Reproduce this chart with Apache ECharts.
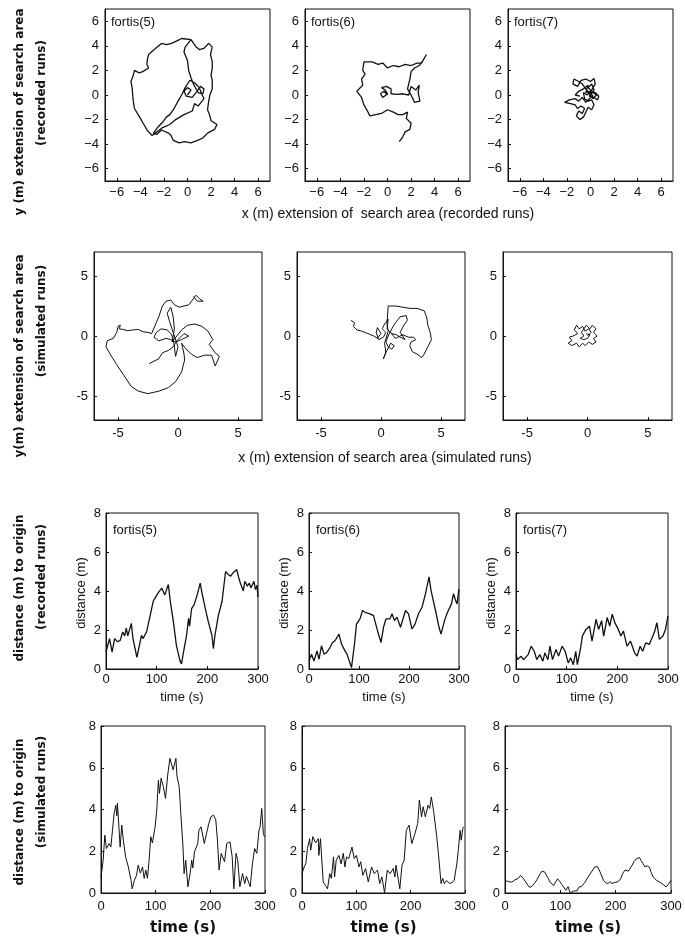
<!DOCTYPE html>
<html>
<head>
<meta charset="utf-8">
<script src="https://cdn.jsdelivr.net/npm/echarts@6/dist/echarts.min.js"></script>
<style>
  html, body { margin: 0; padding: 0; background: #fff; }
  #main { width: 685px; height: 941px; }
</style>
</head>
<body>
<div id="main"></div>
<script>
// ---- tick labels ----
const recTicks = [-6, -4, -2, 0, 2, 4, 6];
const simTicks = [-5, 0, 5];
const timeTicks = [0, 100, 200, 300];
const distTicks = [0, 2, 4, 6, 8];
const panelNames = ['fortis(5)', 'fortis(6)', 'fortis(7)'];

// ---- recorded search paths (x m, y m) ----
const recPath5 = [[0,0],[0.3,0.4],[0,0.6],[-0.3,0.3],[-0.1,-0.1],[0.4,-0.2],[0.8,0.3],[1.1,0.7],[1.4,0.5],[1.3,0.1],[0.9,0.2],[0.5,0.9],[0.3,1.4],[0.1,2.0],[0,2.8],[-0.3,3.5],[-0.2,3.9],[0.3,4.5],[0.7,3.95],[1.0,3.7],[1.4,3.8],[1.8,4.2],[2.1,3.9],[1.95,3.3],[2.1,2.7],[2.1,2.2],[2.0,1.6],[2.1,1.2],[2.1,0.5],[1.9,0],[1.8,-0.5],[1.7,-1.2],[1.9,-1.7],[2.0,-2.1],[2.5,-2.4],[2.3,-2.8],[1.7,-3.1],[1.3,-3.5],[0.85,-3.7],[0.3,-3.9],[-0.25,-3.8],[-0.7,-3.9],[-1.2,-3.7],[-1.4,-3.3],[-1.6,-3.1],[-2.2,-2.85],[-2.6,-3.2],[-2.9,-3.1],[-2.5,-2.6],[-2.1,-2.2],[-1.8,-1.8],[-1.5,-1.6],[-1.2,-1.2],[-0.8,-0.5],[-0.5,0],[-0.2,0.6],[0.2,1.2],[0.6,1.0],[1.0,0.6],[1.2,0.1],[1.4,-0.3],[0.9,-0.9],[0.6,-0.7],[0.4,-1.3],[-0.3,-1.6],[-1.0,-2.0],[-1.5,-2.4],[-2.2,-2.7],[-3.0,-3.3],[-3.4,-2.9],[-3.7,-2.4],[-4.0,-1.9],[-4.5,-1.1],[-4.6,-0.5],[-4.65,0],[-4.7,0.6],[-4.8,1.1],[-4.6,1.6],[-4.5,2.0],[-4.1,1.8],[-3.8,1.9],[-3.3,2.2],[-3.45,2.5],[-3.4,2.9],[-3.3,3.3],[-2.7,3.8],[-2.2,4.2],[-1.8,4.1],[-1.35,4.2],[-0.9,4.4],[-0.5,4.6],[0.3,4.5]];
const recPath6 = [[0,0],[-0.3,0.3],[-0.6,0.1],[-0.4,-0.2],[0,0.1],[-0.2,0.4],[-0.5,0.6],[-0.1,0.7],[0.3,0.5],[0.3,0.1],[0.8,0.05],[1.3,0.1],[1.8,0],[2.0,0.7],[2.4,0.4],[2.7,0.8],[2.6,0.2],[2.75,-0.5],[2.3,-0.6],[2.0,0],[1.7,0.5],[1.9,1.3],[2.0,1.9],[2.3,2.2],[2.7,2.4],[3.0,2.8],[3.3,3.3],[2.9,2.6],[2.5,2.6],[2.0,2.4],[1.5,2.5],[1.0,2.3],[0.5,2.4],[0,2.2],[-0.4,2.6],[-0.8,2.5],[-1.3,2.7],[-2.0,2.7],[-2.1,2.0],[-1.9,1.7],[-2.2,1.3],[-2.1,0.8],[-2.6,0.3],[-2.2,-0.2],[-2.0,-0.8],[-1.7,-1.3],[-1.5,-1.7],[-1.0,-1.6],[-0.5,-1.5],[0,-1.2],[0.5,-1.4],[0.9,-1.6],[1.3,-1.6],[1.7,-1.4],[1.6,-1.9],[2.0,-2.3],[1.9,-2.8],[1.5,-3.0],[1.3,-3.4],[1.0,-3.8]];
const recPath7 = [[0,0],[0.3,0.4],[0.1,0.9],[-0.2,0.6],[0.2,0.2],[0.5,0],[0.2,-0.3],[-0.1,0.1],[-0.4,0.5],[-0.7,0.9],[-1.0,1.1],[-1.4,1.3],[-1.5,0.9],[-1.1,0.7],[-0.8,1.2],[-0.4,1.3],[0,1.1],[0.3,1.35],[0.4,0.9],[0.1,0.4],[-0.1,-0.1],[0.3,-0.2],[0.6,-0.4],[0.7,-0.1],[0.4,0.2],[0,0.3],[-0.3,0],[-0.6,0.2],[-0.5,-0.3],[-0.2,-0.5],[0.1,-0.4],[0.3,-0.8],[0.1,-1.2],[-0.2,-1.0],[-0.4,-1.4],[-0.6,-1.8],[-0.9,-2.0],[-1.2,-1.7],[-1.0,-1.3],[-0.7,-1.5],[-0.5,-1.1],[-0.8,-0.9],[-1.1,-1.1],[-1.3,-0.8],[-1.7,-0.7],[-2.2,-0.6],[-1.8,-0.4],[-1.3,-0.3],[-1.0,-0.5],[-0.7,-0.2],[-0.4,-0.6],[-0.1,-0.3],[0.2,-0.1],[-0.1,0.3],[-0.4,0.2],[-0.2,0.8],[-0.6,0.5],[-1.0,0.3],[-1.3,0],[-0.9,-0.1]];

// ---- simulated search paths ----
const simPath5 = [[-2.4,-2.3],[-2.0,-2.1],[-1.6,-1.9],[-1.3,-1.4],[-0.8,-1.2],[-0.4,-0.9],[-0.1,-0.4],[0.5,0.2],[0.9,0],[0.3,-0.3],[-0.2,-0.5],[-0.6,-0.3],[-1.0,-0.2],[-1.6,-0.4],[-2.0,-0.1],[-1.8,0.3],[-1.4,0.6],[-0.9,0.5],[-0.6,0.2],[-0.4,-0.2],[-0.2,-1.7],[0,-0.9],[-0.4,0.3],[-0.7,1.2],[-0.9,1.9],[-0.6,2.4],[-0.4,1.6],[-0.3,0.6],[-0.5,-0.5],[0.3,0.5],[0.8,0.9],[1.4,1.0],[2.0,0.8],[2.5,0.4],[2.9,-0.3],[2.6,-0.7],[3.1,-1.4],[3.45,-1.7],[3.1,-2.5],[2.8,-1.6],[2.2,-1.6],[1.6,-1.8],[1.1,-1.5],[0.6,-1.0],[0.3,-0.6],[0.5,-1.5],[0.55,-2.0],[0.3,-3.0],[-0.2,-3.8],[-0.8,-4.3],[-1.6,-4.6],[-2.5,-4.8],[-3.3,-4.6],[-3.9,-4.2],[-4.5,-3.3],[-5.1,-2.4],[-5.6,-1.6],[-6.0,-0.9],[-5.9,-0.4],[-5.4,-0.2],[-5.1,0.3],[-5.0,0.8],[-4.8,0.9],[-4.9,0.6],[-4.6,0.55],[-4.2,0.45],[-3.8,0.5],[-3.3,0.55],[-2.9,0.35],[-2.5,0.3],[-2.2,0.2],[-1.9,0.9],[-1.6,1.6],[-1.3,2.5],[-1.0,2.9],[-0.6,3.0],[-0.3,2.6],[0.1,2.4],[0.5,2.5],[0.9,2.6],[1.2,3.0],[1.5,3.4],[1.8,3.1],[2.1,2.9],[1.6,2.9],[1.3,3.3]];
const simPath6 = [[-2.5,1.3],[-2.2,1.1],[-2.3,0.8],[-2.0,0.5],[-1.6,0.4],[-1.1,0.2],[-0.6,0],[-0.3,-0.2],[0,0.2],[-0.3,0.7],[-0.4,0.3],[-0.2,-0.3],[0.2,-0.1],[0.4,0.3],[0.1,0.6],[0.3,1.0],[0.6,1.4],[0.5,0.6],[0.9,0.2],[1.3,0.1],[1.6,-0.1],[2.0,-0.3],[1.6,0.3],[1.9,0.9],[2.2,1.3],[2.1,1.7],[1.6,1.6],[1.2,1.1],[0.9,0.6],[0.6,0],[0.4,-0.5],[0.6,-0.9],[0.9,-1.1],[1.1,-0.8],[0.8,-0.6],[0.5,-1.2],[0.3,-1.6],[0.2,-1.9],[0.4,-1.4],[0.3,-0.6],[0.6,0.4],[0.5,1.0],[0.6,2.5],[1.2,2.5],[1.8,2.4],[2.4,2.3],[3.0,2.3],[3.6,2.1],[3.8,1.6],[3.9,0.9],[4.1,0.3],[4.2,-0.3],[3.9,-0.9],[3.6,-1.5],[3.4,-1.8],[3.0,-1.5],[2.6,-1.3],[2.4,-0.8],[2.5,-0.5],[2.9,-0.3],[2.7,-0.1],[2.3,-0.1],[1.8,0.1],[1.2,-0.2],[0.8,0.3]];
const simPath7 = [[0,0],[0.3,0.3],[0.1,0.6],[-0.2,0.4],[-0.4,0.8],[-0.7,0.6],[-0.9,0.9],[-1.1,0.5],[-0.8,0.2],[-1.2,0],[-1.5,-0.1],[-1.3,-0.4],[-1.6,-0.6],[-1.3,-0.8],[-0.9,-0.6],[-0.7,-0.9],[-0.4,-0.6],[-0.2,-0.8],[0.1,-0.5],[0.4,-0.7],[0.7,-0.5],[0.5,-0.2],[0.8,0],[0.5,0.3],[0.7,0.6],[0.4,0.9],[0.2,0.6],[-0.1,0.9],[-0.3,0.6],[-0.5,0.3],[-0.3,0],[-0.6,-0.2],[-0.3,-0.3],[0,-0.2],[0.2,0.1],[-0.1,0.2]];

// ---- distance to origin, recorded runs (t s, d m) ----
const recDist5 = [[0,0.87],[7,1.56],[12,0.87],[17,1.56],[23,1.4],[28,1.47],[33,1.9],[37,1.7],[40,2.1],[43,1.7],[50,2.34],[53,1.6],[61,0.6],[70,1.73],[73,1.56],[80,1.9],[86,2.6],[93,3.46],[96,3.6],[103,3.9],[110,4.15],[113,4.25],[116,3.8],[123,4.33],[127,3.46],[133,2.42],[139,1.2],[146,0.43],[149,0.26],[153,0.87],[159,1.73],[163,2.6],[165,2.2],[169,3.1],[174,3.3],[180,3.8],[186,4.4],[189,3.96],[196,3.1],[202,2.42],[209,1.73],[212,1.04],[215,1.73],[222,2.77],[229,3.46],[236,5.0],[241,4.85],[246,4.76],[251,4.94],[258,5.1],[262,4.68],[265,4.42],[271,4.0],[274,4.5],[279,4.25],[283,4.4],[286,4.16],[292,4.5],[295,4.07],[298,4.3],[300,3.7]];
const recDist6 = [[0,0.41],[5,0.76],[10,0.41],[16,0.93],[20,0.5],[25,1.19],[30,0.76],[35,0.84],[42,1.1],[47,1.36],[52,1.45],[60,1.79],[65,1.28],[72,0.93],[76,0.76],[80,0.84],[85,0.07],[91,1.28],[95,2.3],[102,2.57],[107,3.0],[112,2.91],[115,3.0],[122,2.83],[129,2.74],[137,1.97],[144,1.36],[149,2.14],[154,2.57],[162,2.57],[166,2.83],[171,2.48],[176,2.66],[183,2.14],[193,3.0],[199,2.83],[206,2.05],[212,2.3],[219,2.83],[226,3.17],[233,3.86],[240,4.72],[244,4.03],[253,3.0],[260,2.14],[264,1.79],[271,2.48],[277,2.91],[285,3.34],[289,3.86],[293,3.52],[296,3.34],[300,4.1]];
const recDist7 = [[0,0.74],[3,0.48],[10,0.65],[15,0.48],[24,0.74],[30,1.17],[36,0.91],[41,0.48],[47,0.74],[53,0.4],[57,0.83],[63,0.48],[67,1.17],[72,0.48],[79,1.0],[84,0.66],[91,1.17],[97,0.91],[103,0.31],[108,0.57],[113,0.22],[118,0.91],[121,0.22],[127,1.0],[131,1.69],[138,2.03],[145,2.2],[150,1.43],[158,2.55],[163,2.03],[169,2.47],[173,1.69],[180,2.64],[185,2.2],[190,2.81],[195,2.38],[202,2.03],[207,1.69],[212,1.95],[219,1.17],[226,1.43],[234,0.83],[239,0.66],[245,1.17],[250,0.91],[256,1.34],[263,1.26],[270,1.69],[274,1.95],[278,2.38],[283,1.52],[290,1.69],[295,2.03],[300,2.72]];

// ---- distance to origin, simulated runs ----
const simDist5 = [[0,0.77],[4,1.57],[7,2.77],[10,2.13],[15,2.37],[18,2.2],[21,3.0],[24,3.8],[27,4.2],[29,3.7],[30,4.3],[32,3.5],[35,2.2],[38,3.25],[41,2.5],[45,1.73],[50,1.25],[55,0.6],[57,0.2],[61,0.6],[65,0.85],[68,1.33],[72,0.95],[76,1.25],[79,0.7],[82,1.1],[85,0.7],[88,1.57],[91,2.7],[94,2.4],[99,3.17],[102,3.97],[105,5.4],[107,4.77],[110,5.5],[114,5.1],[118,4.53],[122,5.65],[126,6.45],[129,6.5],[132,5.9],[137,6.45],[139,5.6],[143,5.1],[146,3.8],[150,2.2],[152,0.93],[155,1.57],[159,0.3],[163,0.93],[166,1.57],[168,1.2],[171,1.97],[174,1.9],[177,2.37],[179,3.0],[183,3.17],[189,2.37],[193,2.85],[197,3.3],[201,3.65],[206,3.73],[210,3.5],[213,2.53],[216,1.1],[220,1.9],[226,1.5],[230,2.37],[236,2.45],[240,1.73],[243,0.2],[247,1.9],[250,1.6],[254,0.3],[259,0.93],[263,0.45],[266,0.8],[273,0.3],[277,1.4],[281,2.13],[285,1.9],[289,3.0],[291,3.17],[294,4.05],[297,2.85],[299,2.7]];
const simDist6 = [[0,0.93],[4,1.25],[7,1.4],[10,2.13],[14,2.6],[16,2.05],[20,2.7],[25,2.4],[30,2.6],[31,1.8],[34,2.6],[39,0.53],[43,0.37],[47,0.2],[51,0.93],[54,0.7],[58,1.73],[60,0.77],[63,1.57],[68,1.8],[72,1.4],[76,1.9],[79,1.25],[82,1.73],[86,1.65],[92,2.2],[96,1.65],[100,1.8],[105,1.25],[108,1.5],[112,0.85],[117,1.17],[122,0.53],[128,1.25],[133,0.93],[139,1.1],[143,0.45],[147,0.77],[152,0.02],[157,1.1],[162,0.93],[168,1.17],[171,0.77],[173,1.33],[180,0.2],[184,1.33],[188,1.57],[192,3.0],[197,3.25],[202,2.37],[208,2.85],[213,3.33],[216,4.45],[220,3.65],[223,4.13],[227,3.65],[232,4.2],[235,4.05],[238,4.6],[242,3.97],[248,2.7],[251,1.9],[256,0.45],[259,0.7],[262,0.45],[266,0.6],[272,0.45],[276,0.5],[280,0.6],[285,1.4],[288,2.13],[291,3.0],[293,2.53],[296,3.1],[298,3.17]];
const simDist7 = [[0,0.6],[6,0.55],[12,0.52],[18,0.63],[24,0.7],[28,0.84],[33,0.7],[38,0.5],[43,0.3],[47,0.28],[53,0.45],[58,0.65],[63,0.9],[67,1.05],[72,1.0],[77,0.75],[82,0.5],[88,0.36],[92,0.55],[95,0.68],[99,0.55],[103,0.4],[110,0.13],[114,0.3],[118,0.0],[124,0.1],[130,0.1],[134,0.3],[138,0.3],[144,0.5],[150,0.76],[156,1.0],[162,1.24],[167,1.27],[172,1.0],[178,0.6],[182,0.5],[186,0.44],[190,0.55],[193,0.45],[198,0.5],[201,0.44],[205,0.55],[209,0.68],[213,0.95],[217,1.1],[223,1.05],[229,1.3],[233,1.5],[237,1.63],[243,1.7],[246,1.55],[249,1.43],[253,1.25],[257,1.3],[261,1.24],[264,1.0],[268,0.76],[274,0.6],[280,0.52],[286,0.4],[291,0.29],[296,0.44],[300,0.6]];

const paths = [recPath5, recPath6, recPath7, simPath5, simPath6, simPath7];
const dists = [recDist5, recDist6, recDist7, simDist5, simDist6, simDist7];

// panel boxes: [left, top, width, height]
const boxes = [
  [105, 9, 165, 172], [305, 9, 165, 172], [508, 9, 165, 172],
  [94, 252, 168, 168], [297, 252, 168, 168], [503, 252, 169, 168],
  [106, 513, 152, 156], [309, 513, 150, 156], [516, 513, 152, 156],
  [101, 726, 164, 167], [302, 726, 163, 167], [505, 726, 166, 167]
];

const tickFont = { color: '#111', fontFamily: 'Liberation Sans', fontSize: 13 };
const minusFmt = v => (v < 0 ? '\u2212' + (-v) : String(v));

const grid = [], xAxis = [], yAxis = [], series = [];
boxes.forEach((b, i) => {
  grid.push({ left: b[0], top: b[1], width: b[2], height: b[3], show: true, borderColor: '#111', borderWidth: 1, containLabel: false });
  const row = Math.floor(i / 3);
  const base = { gridIndex: i, splitLine: { show: false }, axisLine: { show: true, onZero: false, lineStyle: { color: '#111', width: 1 } } };
  if (row < 2) {
    const ticks = row === 0 ? recTicks : simTicks;
    const fmt = row === 0 ? minusFmt : (v => String(v));
    xAxis.push(Object.assign({}, base, {
      type: 'value', min: -7, max: 7,
      axisTick: { inside: true, length: 3, customValues: ticks, lineStyle: { color: '#111' } },
      axisLabel: Object.assign({ customValues: ticks, formatter: fmt, margin: row === 0 ? 5 : 7 }, tickFont)
    }));
    yAxis.push(Object.assign({}, base, {
      type: 'value', min: -7, max: 7,
      axisTick: { inside: true, length: 3, customValues: ticks, lineStyle: { color: '#111' } },
      axisLabel: Object.assign({ customValues: ticks, formatter: fmt, margin: 6 }, tickFont)
    }));
    series.push({
      type: 'line', xAxisIndex: i, yAxisIndex: i, data: paths[i], showSymbol: false, silent: true,
      lineStyle: { color: '#111', width: row === 0 ? 1.3 : 1 }
    });
  } else {
    xAxis.push(Object.assign({}, base, {
      type: 'value', min: 0, max: 300, interval: 100,
      axisTick: { inside: true, length: 3, lineStyle: { color: '#111' } },
      axisLabel: Object.assign({ margin: row === 2 ? 4 : 7 }, tickFont)
    }));
    yAxis.push(Object.assign({}, base, {
      type: 'value', min: 0, max: 8, interval: 2,
      axisTick: { inside: true, length: 3, lineStyle: { color: '#111' } },
      axisLabel: Object.assign({ margin: 5 }, tickFont)
    }));
    series.push({
      type: 'line', xAxisIndex: i, yAxisIndex: i, data: dists[i - 6], showSymbol: false, silent: true,
      lineStyle: { color: '#111', width: row === 2 ? 1.3 : 1 }
    });
  }
});

// texts
const graphic = [];
function txt(x, y, text, font, rot) {
  graphic.push({ type: 'text', x: x, y: y, rotation: rot || 0, silent: true,
    style: { text: text, font: font, fill: '#111', textAlign: 'center', textVerticalAlign: 'middle' } });
}
function ltxt(x, y, text, font) {
  graphic.push({ type: 'text', x: x, y: y, silent: true,
    style: { text: text, font: font, fill: '#111', textAlign: 'left', textVerticalAlign: 'middle' } });
}
const boldSide = 'bold 12px "DejaVu Sans"';
const R = Math.PI / 2;
txt(20, 112, 'y (m) extension of search area', boldSide, R);
txt(42, 93, '(recorded runs)', boldSide, R);
txt(20, 356, 'y(m) extension of search area', boldSide, R);
txt(42, 321, '(simulated runs)', boldSide, R);
txt(20, 588, 'distance (m) to origin', boldSide, R);
txt(42, 577, '(recorded runs)', boldSide, R);
txt(20, 812, 'distance (m) to origin', boldSide, R);
txt(42, 792, '(simulated runs)', boldSide, R);

txt(388, 214, 'x (m) extension of  search area (recorded runs)', '14px "Liberation Sans"');
txt(385, 458, 'x (m) extension of search area (simulated runs)', '14px "Liberation Sans"');

[0, 1, 2].forEach(k => {
  ltxt(boxes[k][0] + 6, 22, panelNames[k], '13px "Liberation Sans"');
  const b = boxes[6 + k];
  ltxt(b[0] + 7, 530, panelNames[k], '13px "Liberation Sans"');
  txt(b[0] - 25, 593, 'distance (m)', '13px "Liberation Sans"', R);
  txt(b[0] + b[2] / 2, 697, 'time (s)', '13px "Liberation Sans"');
  const c = boxes[9 + k];
  txt(c[0] + c[2] / 2, 928, 'time (s)', 'bold 15px "DejaVu Sans"');
});

const chart = echarts.init(document.getElementById('main'));
chart.setOption({
  animation: false,
  backgroundColor: '#fff',
  grid: grid,
  xAxis: xAxis,
  yAxis: yAxis,
  series: series,
  graphic: graphic
});
</script>
</body>
</html>
